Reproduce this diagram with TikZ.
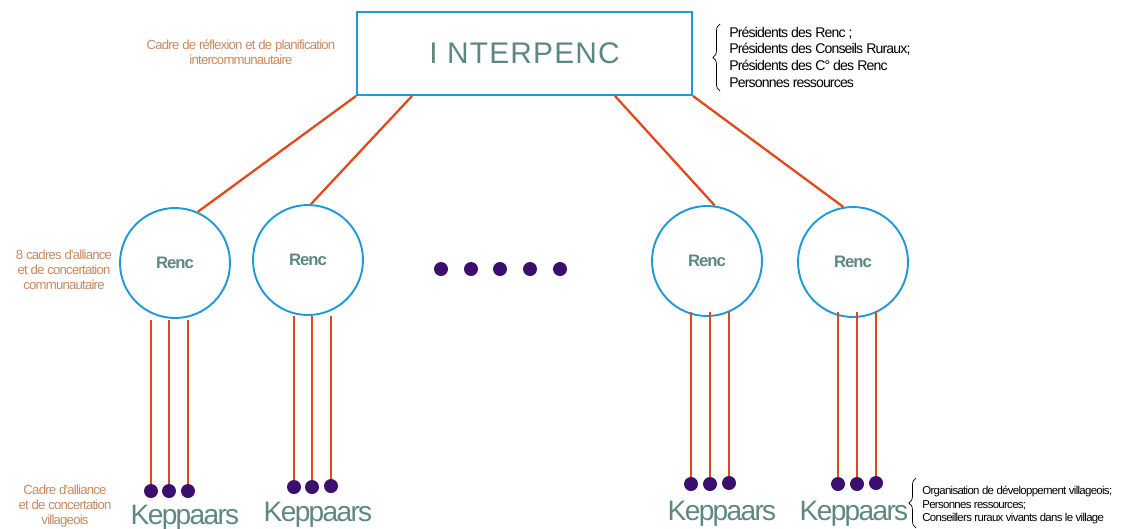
\documentclass[tikz,border=0pt]{standalone}
\usepackage{fontspec}
\setmainfont{Liberation Sans}
\newfontfamily\serre[LetterSpace=-6]{Liberation Sans}
\newfontfamily\espace[LetterSpace=4]{Liberation Sans}
\usepackage{xcolor}
\usetikzlibrary{decorations.pathreplacing}
\definecolor{bleucadre}{HTML}{1E9BD7}
\definecolor{lienrouge}{HTML}{E2491A}
\definecolor{pointviolet}{HTML}{3A0F6E}
\definecolor{titregris}{HTML}{5E8784}
\definecolor{beige}{HTML}{C98A5E}

\begin{document}
\begin{tikzpicture}[x=0.02cm,y=-0.02cm,
  cadre/.style={draw=bleucadre,line width=1.1pt},
  renc/.style={cadre,circle,minimum size=2.2cm,inner sep=0pt,text=titregris,font=\serre\fontsize{9.5}{10}\selectfont\bfseries},
  lien/.style={draw=lienrouge,line width=1.3pt},
  filet/.style={draw=lienrouge,line width=1.6pt},
  pastille/.style={circle,fill=pointviolet,inner sep=0pt,minimum size=0.28cm},
  keppaar/.style={text=titregris,inner sep=0pt,anchor=base,font=\serre\fontsize{16}{16}\selectfont},
  note/.style={text=beige,align=center,inner sep=0pt,font=\serre\fontsize{7.5}{8.5}\selectfont},
  liste/.style={align=left,anchor=west,inner sep=0pt},
  accolade/.style={decorate,decoration={brace,amplitude=4pt},thin}]
\useasboundingbox (0,0) rectangle (1140,528);

% cadre intercommunautaire
\node[cadre,minimum width=6.7cm,minimum height=1.66cm,text=titregris,
  font=\espace\fontsize{17}{17}\selectfont] (inter) at (524.5,53.5) {I NTERPENC};
\node[note] (reflexion) at (241,52) {Cadre de réflexion et de planification\\intercommunautaire};
\draw[accolade] (720,91) -- (720,24);
\node[liste,font=\serre\fontsize{8}{9.5}\selectfont] (membres) at (729,57)
  {Présidents des Renc ;\\Présidents des Conseils Ruraux;\\Présidents des C° des Renc\\Personnes ressources};

% les Renc
\node[renc] (r1) at (175,263) {Renc};
\node[renc] (r2) at (308,260) {Renc};
\node[renc] (r3) at (707,261) {Renc};
\node[renc] (r4) at (853,262) {Renc};
\node[note] (alliance) at (64,270) {8 cadres d'alliance\\et de concertation\\communautaire};

\draw[lien] (inter.south west) -- (r1.66);
\draw[lien] ([xshift=1.12cm]inter.south west) -- (r2.87);
\draw[lien] ([xshift=-1.56cm]inter.south east) -- (r3.82);
\draw[lien] (inter.south east) -- (r4.100);

\foreach \i/\x in {1/441,2/471,3/500,4/530,5/560}
  \node[pastille] (suite\i) at (\x,269) {};

% keppaars
\foreach \n/\x/\ya/\yb in {a1/151/320/491,a2/169/320/491,a3/188/320/491,
  b1/294/316/487,b2/312/316/487,b3/331/316/486,
  c1/691/312/484,c2/710/312/484,c3/729/312/483,
  d1/838/312/484,d2/857/312/484,d3/876/312/483}{
  \coordinate (h\n) at (\x,\ya);
  \node[pastille] (p\n) at (\x,\yb) {};
  \draw[filet] (h\n) -- (p\n);
}

\node[keppaar] (k1) at (185,524) {Keppaars};
\node[keppaar] (k2) at (318,521) {Keppaars};
\node[keppaar] (k3) at (722,520) {Keppaars};
\node[keppaar] (k4) at (854,520) {Keppaars};
\node[note] (village) at (65,506) {Cadre d'alliance\\et de concertation\\villageois};
\draw[accolade] (916,528) -- (916,478);
\node[liste,font=\serre\fontsize{6.5}{7.6}\selectfont] (acteurs) at (922,505)
  {Organisation de développement villageois;\\Personnes ressources;\\Conseillers ruraux vivants dans le village};
\end{tikzpicture}
\end{document}
